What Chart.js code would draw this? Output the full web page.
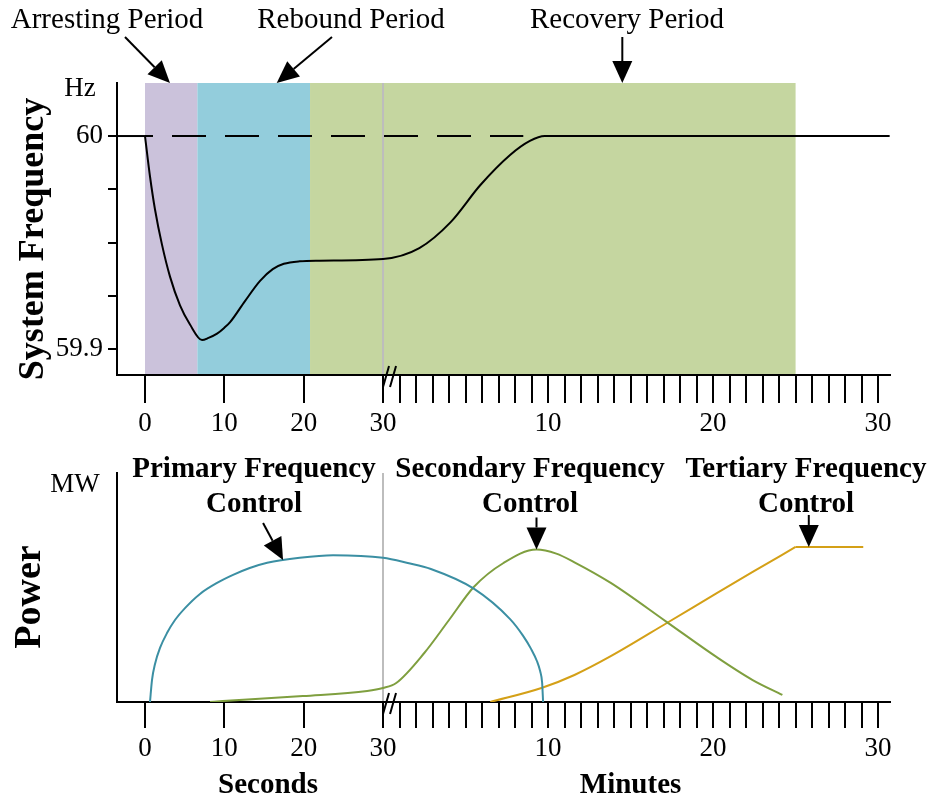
<!DOCTYPE html>
<html>
<head>
<meta charset="utf-8">
<script src="https://cdn.jsdelivr.net/npm/chart.js@4/dist/chart.umd.min.js"></script>
<style>
  html, body { margin: 0; padding: 0; background: #fff; }
  #wrap { position: relative; width: 933px; height: 799px; }
  canvas { position: absolute; left: 0; }
  #freqChart { top: 0; }
  #powerChart { top: 440px; }
</style>
</head>
<body>
<div id="wrap">
  <canvas id="freqChart" width="933" height="440"></canvas>
  <canvas id="powerChart" width="933" height="359"></canvas>
</div>
<script>
// Time axis: 0-30 seconds, then a break, then 0-30 minutes (compressed)
const MIN_UNITS = 2.08;          // axis units per minute after the break
const X_MIN = -3.53;
const X_MAX = 93.9;
const sec = s => s;
const min = m => 30 + m * MIN_UNITS;

const secTicks = [0, 10, 20, 30];
const secTickLabels = ['0', '10', '20', '30'];
const minTicks = Array.from({ length: 30 }, (_, i) => i + 1);
const minTickLabels = { 10: '10', 20: '20', 30: '30' };

// System frequency (Hz)
const freqSec = [0, 0.63, 1.26, 2.14, 3.15, 4.41, 5.67, 7.19, 8.0, 9.08, 10.0, 10.7, 12.6, 14.5, 16.1, 17.5, 19.5, 22, 30];
const freqSecHz = [60, 59.981, 59.9655, 59.949, 59.934, 59.9205, 59.9115, 59.9042, 59.9052, 59.9072, 59.91, 59.9125, 59.9225, 59.932, 59.9375, 59.94, 59.9412, 59.9415, 59.9423];
const freqMin = [2.2, 4.1, 5.9, 7.7, 8.9, 9.8, 30.7];
const freqMinHz = [59.9474, 59.9596, 59.977, 59.9911, 59.9977, 60, 60];
const nominalHz = 60;
const dashEndMin = 8.5;
const freqTicks = [59.9, 59.925, 59.95, 59.975, 60];
const freqTickLabels = { '59.9': '59.9', '60': '60' };

// Periods
const periodNames = ['Arresting Period', 'Rebound Period', 'Recovery Period'];
const periodStart = [sec(0), sec(6.6), sec(20.8)];
const periodEnd = [sec(6.6), sec(20.8), min(25)];
const periodColors = ['#cbc2db', '#93cddc', '#c5d6a0'];

// Power (relative MW)
const primarySec = [0.63, 0.88, 1.26, 1.89, 2.77, 3.78, 5.04, 6.93, 9.08, 11.1, 13.2, 15.4, 19.5, 23.7, 30];
const primarySecMW = [0, 0.096, 0.166, 0.236, 0.301, 0.358, 0.410, 0.472, 0.520, 0.555, 0.585, 0.608, 0.630, 0.641, 0.630];
const primaryMin = [1.5, 2.9, 5.5, 7.7, 8.48, 8.97, 9.33, 9.52, 9.64, 9.7];
const primaryMinMW = [0.607, 0.581, 0.495, 0.362, 0.290, 0.232, 0.178, 0.135, 0.085, 0];

const secondarySec = [8.2, 9.8, 19.9, 28, 30];
const secondarySecMW = [0, 0.004, 0.026, 0.048, 0.061];
const secondaryMin = [0.8, 2.5, 4.0, 5.5, 7.3, 9.3, 10.5, 11.6, 13.8, 17.2, 20.2, 22.4, 24.2];
const secondaryMinMW = [0.083, 0.214, 0.358, 0.502, 0.607, 0.666, 0.648, 0.610, 0.520, 0.349, 0.197, 0.096, 0.031];

const tertiaryMin = [6.5, 9.6, 11.6, 13.8, 17.2, 20.2, 22.4, 25.0];
const tertiaryMinMW = [0, 0.061, 0.118, 0.200, 0.345, 0.474, 0.568, 0.677];
const tertiaryHoldMin = [25.0, 29.1];
const tertiaryHoldMW = [0.677, 0.677];

const controlNames = ['Primary Frequency', 'Secondary Frequency', 'Tertiary Frequency'];
const controlColors = ['#3b8fa3', '#7f9f3f', '#d4a017'];

const FONT = "'Liberation Serif', 'Times New Roman', serif";
Chart.defaults.font.family = FONT;
Chart.defaults.color = '#000';

function pts(xs, ys, conv) {
  return xs.map((x, i) => ({ x: conv(x), y: ys[i] }));
}

const xTickValues = [...secTicks.map(sec), ...minTicks.map(min)];
const xTickText = [...secTickLabels, ...minTicks.map(m => minTickLabels[m] || '')];

function xAxis(height, tickLen, pad) {
  return {
    type: 'linear', min: X_MIN, max: X_MAX,
    afterBuildTicks: s => { s.ticks = xTickValues.map(v => ({ value: v })); },
    afterFit: s => { s.height = height; },
    ticks: {
      autoSkip: false, maxRotation: 0, padding: pad,
      font: { size: 27 }, color: '#000',
      callback: (v, i) => xTickText[i]
    },
    grid: { drawOnChartArea: false, tickLength: tickLen, color: '#000', lineWidth: 2 },
    border: { color: '#000', width: 2 }
  };
}

function drawArrow(ctx, x1, y1, x2, y2) {
  const head = 22, half = 10;
  const a = Math.atan2(y2 - y1, x2 - x1);
  const bx = x2 - head * Math.cos(a), by = y2 - head * Math.sin(a);
  ctx.strokeStyle = '#000';
  ctx.lineWidth = 2;
  ctx.beginPath();
  ctx.moveTo(x1, y1);
  ctx.lineTo(bx, by);
  ctx.stroke();
  ctx.fillStyle = '#000';
  ctx.beginPath();
  ctx.moveTo(x2, y2);
  ctx.lineTo(bx + half * Math.sin(a), by - half * Math.cos(a));
  ctx.lineTo(bx - half * Math.sin(a), by + half * Math.cos(a));
  ctx.closePath();
  ctx.fill();
}

function drawBreak(ctx, xs, y) {
  const x = xs.getPixelForValue(sec(30));
  ctx.strokeStyle = '#000';
  ctx.lineWidth = 2;
  [0, 7].forEach(dx => {
    ctx.beginPath();
    ctx.moveTo(x + dx, y + 12);
    ctx.lineTo(x + dx + 6, y - 9);
    ctx.stroke();
  });
}

function drawVertical(ctx, text, x, y, size) {
  ctx.save();
  ctx.translate(x, y);
  ctx.rotate(-Math.PI / 2);
  ctx.font = `bold ${size}px ${FONT}`;
  ctx.textAlign = 'center';
  ctx.textBaseline = 'alphabetic';
  ctx.fillText(text, 0, 0);
  ctx.restore();
}

// Top: shaded periods, break line, labels
const freqDecor = {
  id: 'freqDecor',
  beforeDraw(chart) {
    const { ctx, chartArea: a, scales: { x } } = chart;
    ctx.save();
    periodStart.forEach((s, i) => {
      const x1 = x.getPixelForValue(s), x2 = x.getPixelForValue(periodEnd[i]);
      ctx.fillStyle = periodColors[i];
      ctx.fillRect(x1, a.top, x2 - x1, a.bottom - a.top);
    });
    const bx = x.getPixelForValue(sec(30));
    ctx.strokeStyle = '#bdbdbd';
    ctx.lineWidth = 2;
    ctx.beginPath();
    ctx.moveTo(bx, a.top);
    ctx.lineTo(bx, a.bottom);
    ctx.stroke();
    ctx.restore();
  },
  afterDraw(chart) {
    const { ctx, chartArea: a, scales: { x } } = chart;
    ctx.save();
    drawBreak(ctx, x, a.bottom);
    ctx.fillStyle = '#000';
    ctx.font = `29px ${FONT}`;
    ctx.textAlign = 'center';
    ctx.textBaseline = 'alphabetic';
    const labelX = [107, 351, 627];
    periodNames.forEach((t, i) => ctx.fillText(t, labelX[i], 28));
    drawArrow(ctx, 125, 37, x.getPixelForValue(sec(3.15)), a.top);
    drawArrow(ctx, 332, 37, x.getPixelForValue(sec(16.6)), a.top);
    const rx = x.getPixelForValue(min(14.5));
    drawArrow(ctx, rx, 37, rx, a.top);
    ctx.font = `27px ${FONT}`;
    ctx.textBaseline = 'middle';
    ctx.fillText('Hz', 80, 89);
    drawVertical(ctx, 'System Frequency', 43, 239, 36);
    ctx.restore();
  }
};

// Bottom: break line, control labels, axis names
const powerDecor = {
  id: 'powerDecor',
  beforeDraw(chart) {
    const { ctx, chartArea: a, scales: { x } } = chart;
    const bx = x.getPixelForValue(sec(30));
    ctx.save();
    ctx.strokeStyle = '#bdbdbd';
    ctx.lineWidth = 2;
    ctx.beginPath();
    ctx.moveTo(bx, a.top);
    ctx.lineTo(bx, a.bottom);
    ctx.stroke();
    ctx.restore();
  },
  afterDraw(chart) {
    const { ctx, chartArea: a, scales: { x, y } } = chart;
    ctx.save();
    drawBreak(ctx, x, a.bottom);
    ctx.fillStyle = '#000';
    ctx.font = `bold 29px ${FONT}`;
    ctx.textAlign = 'center';
    ctx.textBaseline = 'alphabetic';
    const labelX = [254, 530, 806];
    controlNames.forEach((t, i) => {
      ctx.fillText(t, labelX[i], 37);
      ctx.fillText('Control', labelX[i], 72);
    });
    const p = [x.getPixelForValue(sec(17.4)), y.getPixelForValue(0.62)];
    drawArrow(ctx, p[0] - 20, p[1] - 37, p[0], p[1]);
    const s = [x.getPixelForValue(min(9.3)), y.getPixelForValue(0.666)];
    drawArrow(ctx, s[0], s[1] - 32, s[0], s[1]);
    const t = [x.getPixelForValue(min(25.8)), y.getPixelForValue(0.677)];
    drawArrow(ctx, t[0], t[1] - 32, t[0], t[1]);
    ctx.font = `27px ${FONT}`;
    ctx.textBaseline = 'middle';
    ctx.fillText('MW', 75, 45);
    ctx.font = `bold 29px ${FONT}`;
    ctx.textBaseline = 'alphabetic';
    ctx.fillText('Seconds', x.getPixelForValue(sec(15.5)), 353);
    ctx.fillText('Minutes', x.getPixelForValue(min(15)), 353);
    drawVertical(ctx, 'Power', 40, 157, 38);
    ctx.restore();
  }
};

const smooth = { pointRadius: 0, borderWidth: 2, fill: false, cubicInterpolationMode: 'monotone' };
const straight = { pointRadius: 0, borderWidth: 2, fill: false, tension: 0 };

new Chart(document.getElementById('freqChart'), {
  type: 'line',
  data: {
    datasets: [
      { ...straight, data: pts([X_MIN, 0], [nominalHz, nominalHz], sec), borderColor: '#000' },
      { ...straight, data: [{ x: sec(0), y: nominalHz }, { x: min(dashEndMin), y: nominalHz }],
        borderColor: '#000', borderDash: [34, 19], borderDashOffset: 26 },
      { ...smooth, data: [...pts(freqSec, freqSecHz, sec), ...pts(freqMin, freqMinHz, min)], borderColor: '#000' }
    ]
  },
  options: {
    responsive: false,
    animation: false,
    layout: { padding: { left: 0, right: 43, top: 83, bottom: 0 } },
    plugins: { legend: { display: false }, tooltip: { enabled: false } },
    scales: {
      x: xAxis(65, 28, 5),
      y: {
        min: 59.8878, max: 60.0249,
        afterBuildTicks: s => { s.ticks = freqTicks.map(v => ({ value: v })); },
        afterFit: s => { s.width = 117; },
        ticks: { padding: 5, font: { size: 27 }, color: '#000', callback: v => freqTickLabels[String(+v.toFixed(3))] || '' },
        grid: { drawOnChartArea: false, tickLength: 9, color: '#000', lineWidth: 2 },
        border: { color: '#000', width: 2 }
      }
    }
  },
  plugins: [freqDecor]
});

new Chart(document.getElementById('powerChart'), {
  type: 'line',
  data: {
    datasets: [
      { ...smooth, data: [...pts(primarySec, primarySecMW, sec), ...pts(primaryMin, primaryMinMW, min)], borderColor: controlColors[0] },
      { ...smooth, data: [...pts(secondarySec, secondarySecMW, sec), ...pts(secondaryMin, secondaryMinMW, min)], borderColor: controlColors[1] },
      { ...smooth, data: pts(tertiaryMin, tertiaryMinMW, min), borderColor: controlColors[2] },
      { ...straight, data: pts(tertiaryHoldMin, tertiaryHoldMW, min), borderColor: controlColors[2] }
    ]
  },
  options: {
    responsive: false,
    animation: false,
    layout: { padding: { left: 0, right: 43, top: 33, bottom: 0 } },
    plugins: { legend: { display: false }, tooltip: { enabled: false } },
    scales: {
      x: xAxis(97, 26, 5),
      y: {
        min: 0, max: 1,
        afterFit: s => { s.width = 117; },
        ticks: { display: false },
        grid: { display: false },
        border: { color: '#000', width: 2 }
      }
    }
  },
  plugins: [powerDecor]
});
</script>
</body>
</html>
